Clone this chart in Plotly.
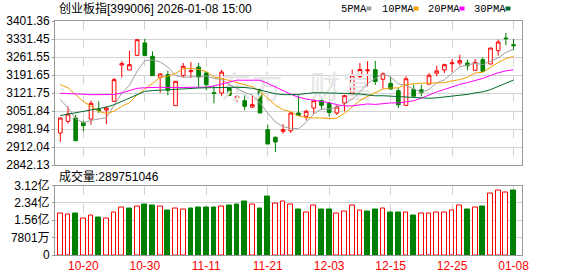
import pandas as pd
import plotly.graph_objects as go

# ---------------- data ----------------
dates = ["10-15", "10-16", "10-17", "10-20", "10-21", "10-22", "10-23", "10-24", "10-27", "10-28",
         "10-29", "10-30", "10-31", "11-03", "11-04", "11-05", "11-06", "11-07", "11-10", "11-11",
         "11-12", "11-13", "11-14", "11-17", "11-18", "11-19", "11-20", "11-21", "11-24", "11-25",
         "11-26", "11-27", "11-28", "12-01", "12-02", "12-03", "12-04", "12-05", "12-08", "12-09",
         "12-10", "12-11", "12-12", "12-15", "12-16", "12-17", "12-18", "12-19", "12-22", "12-23",
         "12-24", "12-25", "12-26", "12-29", "12-30", "12-31", "01-05", "01-06", "01-07", "01-08"]

opens = [2966.4, 3011.7, 3024.7, 3007.8, 3020.8, 3057.0, 3055.7, 3089.4, 3230.5, 3211.1,
         3268.0, 3315.9, 3264.1, 3182.6, 3192.9, 3072.6, 3189.1, 3204.6, 3222.7, 3199.4,
         3123.0, 3121.8, 3147.6, 3103.6, 3092.0, 3067.4, 3134.7, 2979.4, 2949.6, 2972.9,
         2975.5, 3044.1, 3031.1, 3063.5, 3092.0, 3081.0, 3044.0, 3082.9, 3121.0, 3185.5,
         3208.0, 3212.5, 3175.2, 3159.0, 3130.8, 3073.5, 3136.5, 3134.0, 3156.0, 3198.4,
         3211.1, 3235.7, 3238.3, 3238.3, 3209.8, 3251.2, 3234.4, 3286.1, 3335.3, 3309.5]
highs = [3026.0, 3070.0, 3037.6, 3014.3, 3092.0, 3089.4, 3070.0, 3180.0, 3244.7, 3286.1,
         3330.0, 3332.7, 3283.6, 3199.4, 3208.5, 3168.0, 3238.3, 3242.0, 3238.3, 3205.9,
         3150.2, 3212.4, 3164.5, 3121.8, 3115.3, 3111.4, 3138.6, 2998.8, 2953.5, 3001.4,
         3048.0, 3112.7, 3057.0, 3099.8, 3099.8, 3086.8, 3073.9, 3115.3, 3212.0, 3238.0,
         3245.0, 3247.0, 3202.0, 3182.6, 3141.2, 3186.5, 3154.1, 3154.1, 3199.4, 3227.9,
         3235.7, 3253.8, 3270.6, 3251.2, 3253.8, 3260.3, 3297.0, 3328.9, 3354.7, 3331.4]
lows = [2931.5, 3002.7, 2934.0, 2972.9, 2998.8, 3044.0, 3001.4, 3086.8, 3182.6, 3210.0,
        3267.0, 3266.0, 3188.5, 3121.8, 3112.7, 3072.0, 3182.6, 3180.0, 3141.2, 3132.1,
        3081.6, 3108.9, 3112.0, 3086.8, 3054.4, 3063.5, 3044.0, 2923.0, 2892.6, 2963.8,
        2966.4, 3034.0, 3015.6, 3040.2, 3057.0, 3031.1, 3036.0, 3050.6, 3109.0, 3177.4,
        3148.0, 3153.0, 3138.6, 3135.0, 3063.5, 3073.0, 3108.0, 3108.9, 3156.0, 3186.5,
        3199.4, 3202.0, 3227.9, 3209.8, 3209.0, 3203.0, 3234.0, 3266.7, 3306.9, 3287.4]
closes = [3024.7, 3040.2, 2936.7, 2994.9, 3081.6, 3054.0, 3063.5, 3173.5, 3235.7, 3231.8,
          3328.9, 3266.7, 3189.1, 3195.5, 3132.1, 3167.1, 3225.3, 3208.5, 3183.9, 3154.1,
          3120.4, 3203.3, 3112.7, 3108.9, 3070.0, 3076.5, 3044.1, 2923.7, 2931.5, 2979.4,
          3044.1, 3035.0, 3050.6, 3092.0, 3073.9, 3046.0, 3067.5, 3111.4, 3190.6, 3213.0,
          3211.0, 3166.5, 3196.5, 3137.0, 3076.0, 3177.0, 3109.5, 3124.0, 3190.6, 3207.5,
          3231.8, 3238.3, 3247.3, 3227.9, 3240.9, 3205.9, 3296.5, 3319.8, 3332.7, 3305.6]
volumes = [1.854, 1.809, 1.869, 1.628, 1.763, 1.673, 1.658, 1.899, 2.125, 2.080,
           2.170, 2.276, 2.231, 2.170, 1.990, 2.080, 2.035, 2.080, 2.125, 2.125,
           2.125, 2.170, 2.231, 2.276, 2.397, 2.261, 2.080, 2.638, 2.306, 2.381,
           2.261, 2.035, 1.929, 2.201, 2.035, 2.035, 1.854, 1.975, 2.201, 2.020,
           1.944, 2.035, 2.110, 1.899, 1.899, 1.929, 1.763, 1.854, 1.854, 1.929,
           1.899, 2.020, 2.201, 2.035, 2.155, 2.170, 2.743, 2.879, 2.788, 2.89751046]  # 亿

# moving-average values for the first bars (history not shown)
ma5_head = [3096.0, 3064.0, 3022.0, 3005.0]
ma10_head = [3154.0, 3142.0, 3115.0, 3089.0, 3070.0, 3051.0, 3042.0, 3051.0, 3070.0]
ma20_head = [3120.5, 3120.0, 3119.0, 3117.0, 3115.0, 3115.0, 3115.0, 3116.0, 3122.0, 3132.0,
             3140.0, 3142.0, 3144.0, 3144.0, 3143.0, 3142.0, 3143.0, 3144.0, 3144.0]
ma30_head = [3034.0, 3040.0, 3047.0, 3052.0, 3056.0, 3061.0, 3067.0, 3076.0, 3089.0, 3103.0,
             3116.0, 3128.0, 3131.0, 3133.0, 3135.0, 3137.0, 3139.0, 3140.0, 3141.0, 3142.0,
             3143.0, 3144.0, 3144.0, 3144.0, 3143.0, 3140.0, 3133.0, 3125.0, 3119.0]

price_ticks = [2842.13, 2912.04, 2981.94, 3051.84, 3121.75, 3191.65, 3261.55, 3331.45, 3401.36]
vol_ticks = [0, 0.7801, 1.5602, 2.3403, 3.1204]
vol_tick_text = ["0", "7801万", "1.56亿", "2.34亿", "3.12亿"]
tick_dates = ["10-20", "10-30", "11-11", "11-21", "12-03", "12-15", "12-25", "01-08"]

title_text = "创业板指[399006] 2026-01-08 15:00"
vol_title = "成交量:289751046"
ma_names = ["5PMA", "10PMA", "20PMA", "30PMA"]

# ---------------- styling / geometry ----------------
W, H = 578, 276
ML, MR, MT, MB = 55, 56, 21, 21
PW, PH = W - ML - MR, H - MT - MB

RED = "#ff0000"
GREEN = "#008000"
MA_COLORS = ["#a0a0a0", "#f0a000", "#ff00ff", "#006b2b"]
FRAME = "#999999"
GRID = "#d3d3d3"


def pxx(px):
    return (px - ML) / PW


def pxy(py):
    return (H - MB - py) / PH


main_dom = [pxy(165), 1.0]
vol_dom = [0.0, pxy(185.5)]

n = len(dates)
x = list(range(n))
xr = [-0.69, 60.1]

cs = pd.Series(closes)


def moving(nd, head):
    s = cs.rolling(nd).mean().tolist()
    s[:len(head)] = head
    return s


mas = [moving(5, ma5_head), moving(10, ma10_head), moving(20, ma20_head), moving(30, ma30_head)]

up = [True] + [closes[i] >= closes[i - 1] for i in range(1, n)]

fig = go.Figure()


# watermark (behind everything)
def px_to_data(px, py):
    xd = xr[0] + (px - ML) / PW * (xr[1] - xr[0])
    yd = 2842.13 + (165 - py) / 144 * (3401.36 - 2842.13)
    return xd, yd


for ch, cx in zip("东方财富", [236, 267, 325, 358]):
    xd, yd = px_to_data(cx, 90)
    fig.add_trace(go.Scatter(x=[xd], y=[yd], mode="text", text=[ch],
                             textfont=dict(size=31, color="#e6e6e6", family="Noto Sans CJK SC"),
                             hoverinfo="skip", showlegend=False, xaxis="x", yaxis="y"))

for m, c in zip(mas, MA_COLORS):
    fig.add_trace(go.Scatter(x=x, y=m, mode="lines", line=dict(color=c, width=1),
                             hoverinfo="skip", showlegend=False, xaxis="x", yaxis="y"))

fig.add_trace(go.Candlestick(
    x=x, open=opens, high=highs, low=lows, close=closes,
    increasing=dict(line=dict(color=RED, width=1), fillcolor="#ffffff"),
    decreasing=dict(line=dict(color=GREEN, width=1), fillcolor=GREEN),
    whiskerwidth=0, hoverinfo="skip", showlegend=False, xaxis="x", yaxis="y"))

fig.add_trace(go.Bar(
    x=x, y=volumes, width=0.62,
    marker=dict(color=["#ffffff" if u else GREEN for u in up],
                line=dict(color=[RED if u else GREEN for u in up], width=1)),
    hoverinfo="skip", showlegend=False, xaxis="x2", yaxis="y2"))

tickvals = [dates.index(d) for d in tick_dates]

axis_common = dict(showline=True, mirror=True, linecolor=FRAME, linewidth=1,
                   zeroline=False, fixedrange=True, automargin=False)

fig.update_layout(
    width=W, height=H,
    margin=dict(l=ML, r=MR, t=MT, b=MB, pad=0),
    paper_bgcolor="white", plot_bgcolor="white",
    showlegend=False, boxgap=0.32, bargap=0,
    font=dict(family="Liberation Sans, Noto Sans CJK SC", size=12, color="#000000"),
    xaxis=dict(domain=[0, 1], range=xr, anchor="y", tickvals=tickvals, showticklabels=False,
               showgrid=True, gridcolor=GRID, griddash="dash", gridwidth=1, ticks="",
               rangeslider=dict(visible=False), **axis_common),
    xaxis2=dict(domain=[0, 1], range=xr, anchor="y2", matches="x", tickvals=tickvals,
                ticktext=tick_dates, showticklabels=True, ticks="",
                tickfont=dict(color=RED, size=12, family="Liberation Sans"),
                showgrid=True, gridcolor=GRID, griddash="dash", gridwidth=1, **axis_common),
    yaxis=dict(domain=main_dom, range=[price_ticks[0], price_ticks[-1]], anchor="x",
               tickvals=price_ticks, ticktext=[f"{v:.2f}" for v in price_ticks],
               showgrid=True, gridcolor=GRID, ticks="outside", ticklen=2, tickcolor=FRAME,
               tickfont=dict(size=12, color="#000000"), **axis_common),
    yaxis2=dict(domain=vol_dom, range=[0, vol_ticks[-1]], anchor="x2",
                tickvals=vol_ticks, ticktext=vol_tick_text,
                showgrid=True, gridcolor=GRID, ticks="outside", ticklen=2, tickcolor=FRAME,
                tickfont=dict(size=12, color="#000000"), **axis_common),
)

annotations = [
    dict(text=title_text, x=pxx(57), y=pxy(9), xref="paper", yref="paper",
         xanchor="left", yanchor="middle", showarrow=False,
         font=dict(size=12, color="#000000", family="Liberation Sans, Noto Sans CJK SC")),
    dict(text=vol_title, x=pxx(57), y=pxy(176), xref="paper", yref="paper",
         xanchor="left", yanchor="middle", showarrow=False,
         font=dict(size=12, color="#000000", family="Liberation Sans, Noto Sans CJK SC")),
]
shapes = []
legend_x = [339, 380, 426, 472]
for name, lx, c in zip(ma_names, legend_x, MA_COLORS):
    annotations.append(dict(text=name, x=pxx(lx), y=pxy(9), xref="paper", yref="paper",
                            xanchor="left", yanchor="middle", showarrow=False,
                            font=dict(size=10.5, color="#000000", family="Liberation Mono")))
    tw = len(name) * 6.1
    shapes.append(dict(type="rect", xref="paper", yref="paper",
                       x0=pxx(lx + tw + 3), x1=pxx(lx + tw + 8), y0=pxy(10.5), y1=pxy(6.5),
                       fillcolor=c, line=dict(width=0)))

fig.update_layout(annotations=annotations, shapes=shapes)

fig.write_html("out.html")
